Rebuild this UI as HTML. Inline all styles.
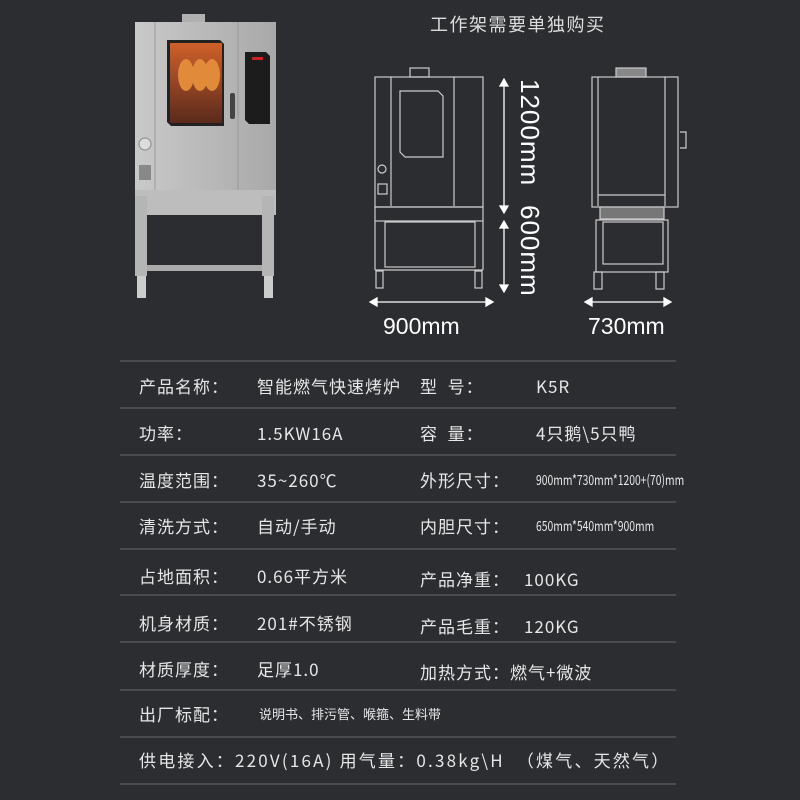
<!DOCTYPE html>
<html><head><meta charset="utf-8"><style>
body{margin:0;width:800px;height:800px;background:#2c2d31;overflow:hidden;position:relative;font-family:"Noto Sans CJK SC","Liberation Sans",sans-serif;color:#e6e6e6}
.t{position:absolute;font-size:17px;line-height:24px;white-space:nowrap;letter-spacing:1px}
.s{font-size:14px;letter-spacing:0;transform:scaleX(0.74);transform-origin:left}
.l{position:absolute;left:120px;width:556px;height:2px;background:#4a4b50}
</style></head><body>
<svg width="800" height="360" style="position:absolute;left:0;top:0">
<defs><linearGradient id="m" x1="0" x2="1"><stop offset="0" stop-color="#c9c9c9"/><stop offset="1" stop-color="#a9a9a9"/></linearGradient>
<linearGradient id="g" x1="0" y1="0" x2="0" y2="1"><stop offset="0" stop-color="#d0602a"/><stop offset="1" stop-color="#5a2a1c"/></linearGradient></defs>
<rect x="182" y="14" width="23" height="10" fill="#b0b0b0"/>
<rect x="135" y="22" width="141" height="168" fill="url(#m)"/>
<line x1="155" y1="22" x2="155" y2="190" stroke="#999"/>
<line x1="238" y1="22" x2="238" y2="190" stroke="#999"/>
<path d="M167 40 H220 L224 44 V126 H171 L167 122Z" fill="#222"/>
<rect x="170" y="43" width="52" height="80" fill="url(#g)"/>
<ellipse cx="186" cy="75" rx="8" ry="16" fill="#e08a3a"/><ellipse cx="200" cy="75" rx="8" ry="16" fill="#e08a3a"/><ellipse cx="212" cy="75" rx="8" ry="16" fill="#e08a3a"/>
<rect x="230" y="93" width="5" height="26" rx="2" fill="#444"/>
<path d="M245 52 H266 L270 56 V124 H249 L245 120Z" fill="#1c1c1c"/>
<rect x="252" y="57" width="11" height="3" fill="#c22"/>
<circle cx="145" cy="144" r="6" fill="#ddd" stroke="#888"/>
<rect x="139" y="165" width="12" height="15" fill="#888"/>
<rect x="135" y="190" width="141" height="25" fill="#bdbdbd"/>
<rect x="135" y="196" width="12" height="80" fill="#b5b5b5"/><rect x="262" y="196" width="12" height="80" fill="#b5b5b5"/>
<rect x="147" y="265" width="115" height="6" fill="#aaa"/>
<rect x="137" y="276" width="9" height="22" fill="#ccc"/><rect x="264" y="276" width="9" height="22" fill="#ccc"/>
<g fill="none" stroke="#ccc" stroke-width="1.2">
<rect x="375" y="77" width="108" height="130"/><line x1="391" y1="77" x2="391" y2="206"/><line x1="454" y1="77" x2="454" y2="206"/>
<rect x="410" y="68" width="19" height="9"/>
<path d="M400 91 H438 L443 96 V157 H405 L400 152Z"/>
<circle cx="382" cy="169" r="4"/><rect x="378" y="184" width="9" height="10"/>
<rect x="375" y="207" width="108" height="14"/><rect x="385" y="222" width="90" height="45"/>
<line x1="375" y1="221" x2="375" y2="270"/><line x1="483" y1="221" x2="483" y2="270"/>
<line x1="375" y1="270" x2="483" y2="270"/>
<rect x="376" y="271" width="7" height="17"/><rect x="475" y="271" width="7" height="17"/>
<rect x="592" y="77" width="86" height="130"/><line x1="598" y1="77" x2="598" y2="206"/><line x1="665" y1="77" x2="665" y2="206"/>
<line x1="598" y1="195" x2="665" y2="195"/>
<rect x="616" y="68" width="30" height="9" fill="#888"/>
<rect x="600" y="207" width="64" height="12" fill="#777"/>
<rect x="596" y="220" width="72" height="52"/><rect x="603" y="222" width="60" height="42"/>
<rect x="594" y="272" width="8" height="17"/><rect x="656" y="272" width="8" height="17"/>
<path d="M680 132 h6 v16 h-6"/>
</g>
<g stroke="#fff" stroke-width="1.3" fill="#fff">
<line x1="504" y1="84" x2="504" y2="208"/><path d="M500 86 L504 79 L508 86Z"/><path d="M500 206 L504 213 L508 206Z"/>
<line x1="504" y1="226" x2="504" y2="288"/><path d="M500 228 L504 221 L508 228Z"/><path d="M500 285 L504 292 L508 285Z"/>
<line x1="375" y1="302" x2="488" y2="302"/><path d="M377 298 L370 302 L377 306Z"/><path d="M486 298 L493 302 L486 306Z"/>
<line x1="590" y1="302" x2="666" y2="302"/><path d="M592 298 L585 302 L592 306Z"/><path d="M664 298 L671 302 L664 306Z"/>
</g>
<text x="0" y="0" transform="translate(521,79) rotate(90)" fill="#fff" font-size="26" font-family="Liberation Sans" letter-spacing="1">1200mm</text>
<text x="0" y="0" transform="translate(521,205) rotate(90)" fill="#fff" font-size="26" font-family="Liberation Sans" letter-spacing="1">600mm</text>
<text x="383" y="334" fill="#fff" font-size="23" font-family="Liberation Sans">900mm</text>
<text x="588" y="334" fill="#fff" font-size="23" font-family="Liberation Sans">730mm</text>
<text x="430" y="31" fill="#ddd" font-size="18" font-family="Noto Sans CJK SC,sans-serif" letter-spacing="1.5">工作架需要单独购买</text>
</svg>
<div class="l" style="top:360px"></div><div class="l" style="top:407px"></div><div class="l" style="top:454px"></div><div class="l" style="top:501px"></div><div class="l" style="top:548px"></div><div class="l" style="top:594px"></div><div class="l" style="top:641px"></div><div class="l" style="top:689px"></div><div class="l" style="top:736px"></div><div class="l" style="top:783px"></div>
<div class="t" style="left:139px;top:374px">产品名称：</div><div class="t" style="left:257px;top:374px">智能燃气快速烤炉</div><div class="t" style="left:420px;top:374px">型&nbsp; 号：</div><div class="t" style="left:536px;top:374px">K5R</div>
<div class="t" style="left:139px;top:421px">功率：</div><div class="t" style="left:257px;top:421px">1.5KW16A</div><div class="t" style="left:420px;top:421px">容&nbsp; 量：</div><div class="t" style="left:536px;top:421px">4只鹅\5只鸭</div>
<div class="t" style="left:139px;top:468px">温度范围：</div><div class="t" style="left:257px;top:468px">35~260℃</div><div class="t" style="left:420px;top:468px">外形尺寸：</div><div class="t s" style="left:536px;top:468px">900mm*730mm*1200+(70)mm</div>
<div class="t" style="left:139px;top:514px">清洗方式：</div><div class="t" style="left:257px;top:514px">自动/手动</div><div class="t" style="left:420px;top:514px">内胆尺寸：</div><div class="t s" style="left:536px;top:514px">650mm*540mm*900mm</div>
<div class="t" style="left:139px;top:564px">占地面积：</div><div class="t" style="left:257px;top:564px">0.66平方米</div><div class="t" style="left:420px;top:567px">产品净重：</div><div class="t" style="left:524px;top:567px">100KG</div>
<div class="t" style="left:139px;top:611px">机身材质：</div><div class="t" style="left:257px;top:611px">201#不锈钢</div><div class="t" style="left:420px;top:614px">产品毛重：</div><div class="t" style="left:524px;top:614px">120KG</div>
<div class="t" style="left:139px;top:657px">材质厚度：</div><div class="t" style="left:257px;top:657px">足厚1.0</div><div class="t" style="left:420px;top:660px">加热方式：燃气+微波</div>
<div class="t" style="left:139px;top:702px">出厂标配：</div><div class="t" style="left:259px;top:702px;font-size:13px;letter-spacing:0">说明书、排污管、喉箍、生料带</div>
<div class="t" style="left:139px;top:748px;letter-spacing:2.2px">供电接入：220V(16A) 用气量：0.38kg\H &nbsp;（煤气、天然气）</div>
</body></html>
